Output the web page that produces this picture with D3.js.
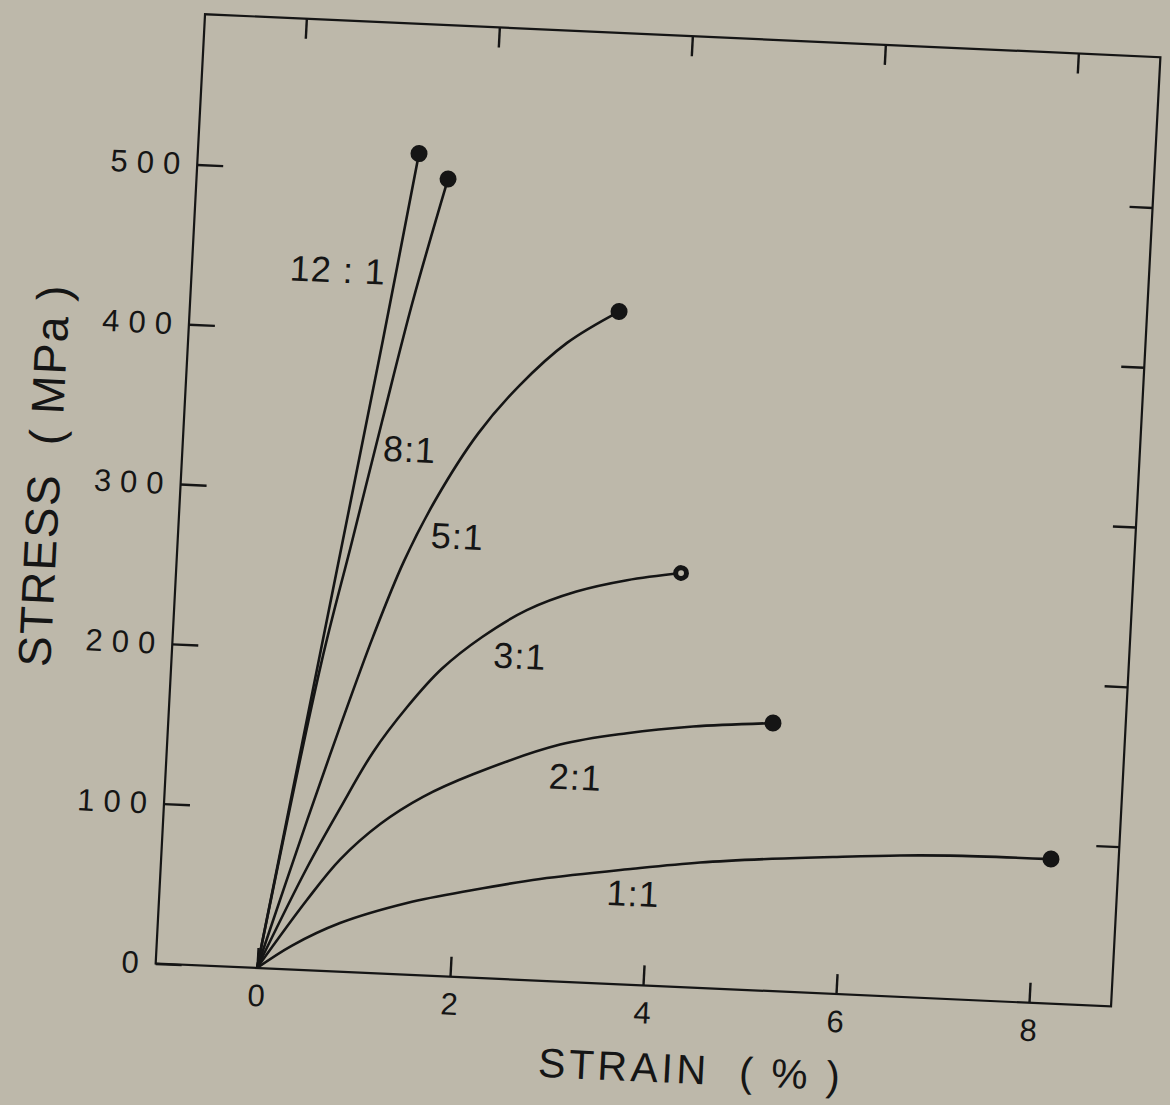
<!DOCTYPE html>
<html>
<head>
<meta charset="utf-8">
<script src="https://cdn.jsdelivr.net/npm/d3@7"></script>
<style>
  html, body { margin: 0; padding: 0; background: #bdb8aa; }
  svg { display: block; }
  text { font-family: "Liberation Sans", "DejaVu Sans", sans-serif; fill: #151515; }
</style>
</head>
<body>
<svg id="chart" width="1170" height="1105"></svg>
<script>
// axis ticks
const strainTicks = [0, 2, 4, 6, 8];
const stressTicks = [0, 100, 200, 300, 400, 500];

// [strain %, stress MPa]
const ratio12 = [[0, 0], [0.613, 251], [0.965, 396], [1.237, 513]];
const ratio8  = [[0, 0], [0.5, 192], [0.75, 268], [1.0, 345], [1.25, 420], [1.551, 498]];
const ratio5  = [[0, 0], [0.441, 94], [0.729, 153], [1.021, 210], [1.3, 258], [1.6, 298], [2.0, 340], [2.4, 371], [2.869, 399], [3.39, 420]];
const ratio3  = [[0, 0], [0.463, 64], [0.773, 102], [1.084, 138], [1.41, 167], [1.75, 192], [2.15, 213], [2.597, 231], [3.1, 244], [3.617, 252.5], [4.172, 258.5]];
const ratio2  = [[0, 0], [0.481, 44], [0.8, 70], [1.2, 93.5], [1.624, 111.5], [2.129, 127], [3.013, 148], [3.699, 157], [4.378, 163], [5.203, 167.4]];
const ratio1  = [[0, 0], [0.35, 15], [0.834, 30.4], [1.516, 44.8], [2.191, 54.8], [2.879, 63.5], [3.833, 72.5], [4.523, 78.3], [5.214, 82.4], [5.895, 85.5], [6.587, 88.3], [7.104, 89.6], [8.15, 90.3]];

const curveNames = ['12 : 1', '8:1', '5:1', '3:1', '2:1', '1:1'];
const curveData = [ratio12, ratio8, ratio5, ratio3, ratio2, ratio1];
// where each name sits, in [strain, stress]
const labelAt = [[0.46, 438], [1.30, 328], [1.84, 275], [2.55, 202], [3.19, 128], [3.85, 57]];
// the 3:1 end point is drawn as a ring in the original
const openEnd = [false, false, false, true, false, false];

const svg = d3.select('#chart');

// the scan is slightly rotated/sheared, so the whole plot sits in a skewed group
const g = svg.append('g')
  .attr('transform', 'matrix(1,0.045,-0.052,1,257,968)');

const x = d3.scaleLinear().domain([0, 8]).range([0, 772]);
const y = d3.scaleLinear().domain([0, 500]).range([0, -799]);
const xMin = -1.05, xMax = 8.85, yMax = 594;

// frame
g.append('rect')
  .attr('x', x(xMin)).attr('y', y(yMax))
  .attr('width', x(xMax) - x(xMin)).attr('height', -y(yMax))
  .attr('fill', 'none').attr('stroke', '#151515').attr('stroke-width', 2.2);

function styleAxis(sel, spacing) {
  sel.select('.domain').remove();
  sel.selectAll('line').attr('stroke', '#151515').attr('stroke-width', 2.4);
  sel.selectAll('text')
    .attr('font-family', '"Liberation Sans", sans-serif')
    .attr('font-size', 31)
    .attr('letter-spacing', spacing || 0)
    .attr('fill', '#151515');
}

g.append('g')
  .call(d3.axisBottom(x).tickValues(strainTicks).tickSizeInner(-20).tickSizeOuter(0).tickPadding(16))
  .call(styleAxis, 0);

g.append('g')
  .attr('transform', `translate(0,${y(yMax)})`)
  .call(d3.axisTop(x).tickValues(strainTicks).tickSizeInner(-20).tickSizeOuter(0).tickFormat(''))
  .call(styleAxis, 0);

g.append('g')
  .attr('transform', `translate(${x(xMin)},0)`)
  .call(d3.axisLeft(y).tickValues(stressTicks).tickSizeInner(-26).tickSizeOuter(0).tickPadding(8))
  .call(styleAxis, 9);

g.append('g')
  .attr('transform', `translate(${x(xMax)},0)`)
  .call(d3.axisRight(y).tickValues(stressTicks.slice(1)).tickSizeInner(-23).tickSizeOuter(0).tickFormat(''))
  .call(styleAxis, 0);

// curves
const line = d3.line()
  .x(d => x(d[0]))
  .y(d => y(d[1]))
  .curve(d3.curveCatmullRom.alpha(0.5));

g.selectAll('.curve')
  .data(curveData)
  .enter().append('path')
    .attr('class', 'curve')
    .attr('d', line)
    .attr('fill', 'none')
    .attr('stroke', '#151515')
    .attr('stroke-width', 2.6);

// end points
g.selectAll('.end')
  .data(curveData)
  .enter().append('circle')
    .attr('class', 'end')
    .attr('cx', d => x(d[d.length - 1][0]))
    .attr('cy', d => y(d[d.length - 1][1]))
    .attr('r', (d, i) => openEnd[i] ? 5.4 : 8.5)
    .attr('fill', (d, i) => openEnd[i] ? '#bdb8aa' : '#151515')
    .attr('stroke', '#151515')
    .attr('stroke-width', (d, i) => openEnd[i] ? 5 : 0);

// curve names
g.selectAll('.name')
  .data(curveNames)
  .enter().append('text')
    .attr('class', 'name')
    .attr('x', (d, i) => x(labelAt[i][0]))
    .attr('y', (d, i) => y(labelAt[i][1]))
    .attr('text-anchor', 'middle')
    .attr('dominant-baseline', 'central')
    .attr('font-size', 36)
    .attr('letter-spacing', 1)
    .style('white-space', 'pre')
    .text(d => d);

// axis titles
g.append('text')
  .attr('x', 438).attr('y', 82)
  .attr('text-anchor', 'middle')
  .attr('dominant-baseline', 'central')
  .attr('font-size', 41)
  .attr('letter-spacing', 3.5)
  .style('white-space', 'pre')
  .text('STRAIN  ( % )');

g.append('text')
  .attr('transform', 'translate(-238,-482) rotate(-90)')
  .attr('text-anchor', 'middle')
  .attr('dominant-baseline', 'central')
  .attr('font-size', 46)
  .attr('letter-spacing', 1.5)
  .style('white-space', 'pre')
  .text('STRESS  ( MPa )');
</script>
</body>
</html>
